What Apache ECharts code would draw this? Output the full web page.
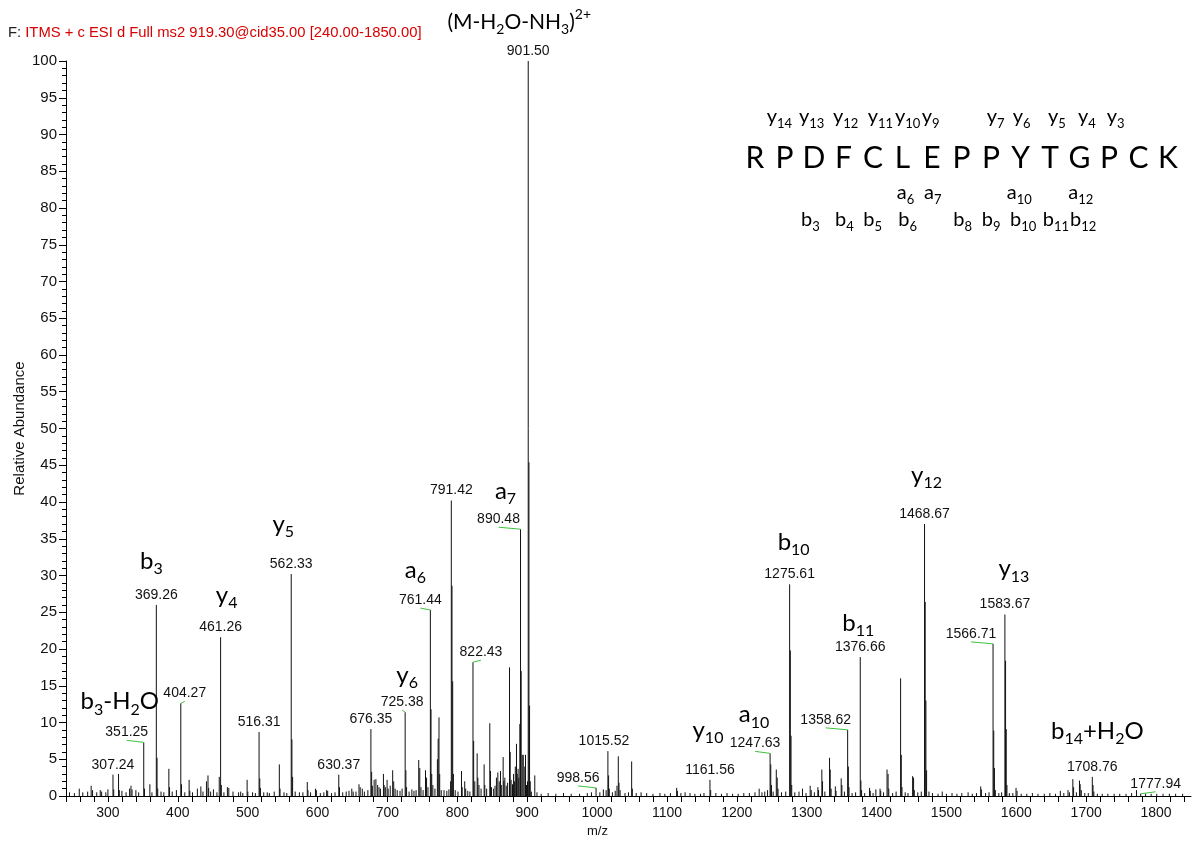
<!DOCTYPE html>
<html><head><meta charset="utf-8">
<script src="https://cdn.jsdelivr.net/npm/echarts@6/dist/echarts.min.js"></script>
<style>html,body{margin:0;padding:0;background:#fff}#c{width:1193px;height:843px}</style>
</head><body><div id="c"></div>
<script>
// ---------------- data ----------------
const peakMz = [245,252,259,264,271,276,278,284,289,291,297,300,307.24,308.3,315.2,316.3,320,326,331,333,334.5,340,344,351.25,352.3,360,363,369.26,370.3,371.3,376,380,387.2,388.2,392,398,404.27,405.3,410,416.2,417.2,421,428,433,436,441,443.2,444.2,447,451,456,459.3,461.26,462.3,466,471,473,479,487,490,493,499.2,500.2,507,511,516.31,517.3,518.3,523,528,531,538,545.3,546.3,552,556,562.33,563.3,564.3,568,574,579,585.3,586.3,590,597,598.3,604,609,613,614.5,620,625,630.37,631.4,636,641,645,649,651,655,659.3,661,664,667,672,676.35,677.4,678.4,681,683.5,686,688,690,694.3,695.3,697,699.5,701,704,707.5,709,711,714,718,721,725.38,726.4,727.4,731,735,738,741,744.8,746.3,748,751,754.5,756,758,761.44,762.4,763.4,765,768,771.5,772.6,773.8,774.8,777,781,785,788,790.4,791.42,792.4,793.4,794.4,797,801,806,807,810.6,812,815,818,822.43,823.4,825,828.4,829.4,831,834,838.4,839.4,842,846.5,847.5,849,852,854,856,858,860,861.8,863,865.6,866.6,868,870,872,874.7,875.7,877,879,880.5,882,883,884.7,885.7,887,888,889.5,890.48,891.4,892.9,894.4,896.6,897.6,899,900.5,901.50,902.5,903.4,904.4,906,910.9,914,920,930,941,952,963,975,986,992,998.56,1004,1009,1013,1015.52,1016.5,1017.5,1022,1026,1028.5,1030.4,1031.4,1033,1040,1045,1049.5,1050.5,1056,1063,1071,1080,1090,1097,1105,1113.9,1115,1120,1126,1133,1140,1148,1153,1161.56,1162.6,1170,1178,1186,1194,1202,1210,1218,1226,1232,1236,1240,1244,1247.63,1248.6,1249.6,1252,1256.5,1257.8,1259,1264,1270,1275.61,1276.6,1277.6,1278.6,1283,1289,1294,1299,1305,1306.5,1311,1316,1317,1321.7,1322.7,1326,1332.7,1333.7,1335,1341,1342,1349.4,1350.4,1354,1358.62,1359.6,1360.6,1365,1370,1376.66,1377.6,1378.6,1383,1390,1391,1395,1399,1405,1406,1410,1415,1416.5,1417.5,1423,1428,1434.4,1435.4,1436.4,1441,1445,1451.6,1453,1454,1459,1464,1468.67,1469.6,1470.6,1471.6,1475,1480,1488,1494,1500,1508,1515,1522,1531,1537,1543,1549,1550,1556,1561,1566.71,1567.7,1568.7,1570,1575,1579,1583.67,1584.6,1585.6,1586.6,1590,1595,1599.6,1601,1607,1615,1623,1631,1640,1648,1656,1663,1668,1674,1676,1680.9,1682,1686,1690.4,1691.4,1693,1698,1703,1708.76,1709.8,1711,1716,1723,1731,1740,1748,1757,1765,1772,1777.94,1785,1793,1801,1810,1819,1828,1838,1846];
const peakInt = [0.5,0.4,1.0,0.5,0.6,1.4,0.8,0.5,0.8,0.6,0.5,0.9,2.9,0.9,3.0,0.8,0.7,0.5,1.0,1.4,0.9,0.8,0.5,7.3,1.0,1.6,0.5,26.0,5.2,1.0,0.6,0.5,3.7,1.2,0.6,0.8,12.6,1.6,0.5,2.2,0.7,0.5,1.0,1.3,0.6,2.0,2.8,1.1,0.6,0.9,0.5,2.6,21.6,1.5,0.5,1.2,1.1,0.6,0.5,0.6,0.4,2.2,0.6,0.5,0.4,8.7,2.4,1.1,0.5,0.5,0.4,0.6,4.3,1.0,0.5,0.4,30.2,7.7,2.6,0.6,0.5,0.5,1.9,0.8,0.5,1.0,0.8,0.4,0.5,0.8,0.7,0.4,0.5,2.9,1.2,0.5,0.6,0.7,1.0,0.6,0.6,1.6,1.2,1.0,0.6,0.8,9.1,3.3,1.4,2.2,2.3,1.5,1.2,1.0,3.0,1.5,1.2,2.2,1.0,1.4,3.5,2.0,1.0,0.8,0.7,1.0,11.4,3.5,1.2,0.6,0.9,0.7,0.8,4.9,3.8,1.2,0.8,3.5,2.5,1.2,25.3,11.8,3.0,1.5,1.0,5.0,7.8,10.7,3.0,0.8,0.8,0.7,0.9,2.0,40.2,28.6,15.6,3.0,0.8,0.6,3.4,1.2,2.0,1.0,0.7,0.6,18.2,7.5,2.0,5.8,2.5,1.5,1.0,4.3,1.5,1.0,9.9,3.4,1.2,1.0,1.4,2.5,3.2,2.0,3.4,1.5,5.3,2.0,2.5,1.4,1.8,17.5,6.0,2.2,1.6,3.0,2.0,4.0,7.1,3.0,3.7,2.5,9.8,36.3,17.0,5.6,5.6,4.0,5.6,1.5,2.0,100,45.4,12.3,2.0,0.6,2.8,0.5,0.3,0.4,0.3,0.4,0.3,0.3,0.4,0.5,1.1,0.5,0.9,0.8,6.1,2.8,1.0,0.5,0.7,1.4,5.4,1.8,0.8,0.4,0.5,4.7,1.0,0.4,0.5,0.4,0.3,0.4,0.3,0.4,1.1,0.7,0.4,0.5,0.4,0.3,0.3,0.4,2.2,0.8,0.4,0.3,0.4,0.3,0.3,0.4,0.4,0.5,1.0,0.5,0.6,0.8,5.8,4.3,1.5,0.6,3.6,2.5,1.0,0.5,0.6,28.8,19.8,8.2,1.5,0.5,0.6,1.0,0.4,1.4,0.8,0.5,1.2,0.8,3.6,2.0,0.6,5.2,3.6,1.0,1.3,0.7,2.4,1.5,0.6,9.0,4.0,1.2,0.4,0.5,18.9,2.1,0.8,0.4,1.1,0.7,0.4,0.9,1.0,0.7,0.5,3.6,3.0,1.0,0.4,0.6,16.0,5.6,1.2,0.5,0.4,2.7,2.5,0.8,0.5,0.6,37.0,26.4,13.0,3.5,0.6,0.4,0.3,0.6,0.3,0.4,0.3,0.4,0.5,0.3,0.4,1.3,0.9,0.4,0.5,20.7,8.9,3.8,0.8,0.4,0.5,24.7,18.4,9.1,1.5,0.4,0.4,1.1,0.7,0.3,0.3,0.4,0.3,0.3,0.4,0.3,0.7,0.4,0.8,0.5,2.3,1.2,0.5,2.1,1.6,0.8,0.4,0.4,2.6,1.5,0.6,0.3,0.3,0.3,0.3,0.3,0.3,0.4,0.8,0.3,0.3,0.3,0.3,0.3,0.3,0.3,0.3];

const labeledPeaks = ['307.24','351.25','369.26','404.27','461.26','516.31','562.33','630.37','676.35','725.38','761.44','791.42','822.43','890.48','901.50','998.56','1015.52','1161.56','1247.63','1275.61','1358.62','1376.66','1468.67','1566.71','1583.67','1708.76','1777.94'];

const ionPeaks = ['369.26','351.25','461.26','562.33','725.38','761.44','890.48','901.50','1161.56','1247.63','1275.61','1376.66','1468.67','1583.67','1708.76'];
const ionNames = ['b_{3}','b_{3}-H_{2}O','y_{4}','y_{5}','y_{6}','a_{6}','a_{7}','(M-H_{2}O-NH_{3})^{2+}','y_{10}','a_{10}','b_{10}','b_{11}','y_{12}','y_{13}','b_{14}+H_{2}O'];

const seqLetters = ['R','P','D','F','C','L','E','P','P','Y','T','G','P','C','K'];
const yRowIons = ['y_{14}','y_{13}','y_{12}','y_{11}','y_{10}','y_{9}','y_{7}','y_{6}','y_{5}','y_{4}','y_{3}'];
const aRowIons = ['a_{6}','a_{7}','a_{10}','a_{12}'];
const bRowIons = ['b_{3}','b_{4}','b_{5}','b_{6}','b_{8}','b_{9}','b_{10}','b_{11}','b_{12}'];

const xTickLabels = [300,400,500,600,700,800,900,1000,1100,1200,1300,1400,1500,1600,1700,1800];
const titlePrefix = 'F: ';
const titleText = 'ITMS + c ESI d Full ms2 919.30@cid35.00 [240.00-1850.00]';
const xName = 'm/z';
const yName = 'Relative Abundance';

// ---------------- layout / style ----------------
const labelShift = {'351.25':-17,'404.27':4,'725.38':-3,'761.44':-10,'822.43':8,'890.48':-22,'998.56':-18,'1015.52':-4,'1247.63':-15,'1358.62':-22,'1566.71':-22,'1777.94':15};
const greenLeader = {'351.25':1,'404.27':1,'725.38':1,'761.44':1,'822.43':1,'890.48':1,'998.56':1,'1247.63':1,'1358.62':1,'1566.71':1,'1777.94':1};
const ionShift = [[-5,44],[-24,41],[6,42],[-8,50],[2,37],[-15,40],[-15,38],[-9,39],[-2,50],[-16,39],[4,42],[-2,34],[2,49],[9,46],[5,46]];
const ionSize = {7: 21};
const yRowX = [766.7,799,833,867.7,895,921.7,986.7,1012.7,1048,1078,1106.7];
const aRowX = [896.7,924,1006.7,1068.3];
const bRowX = [801,835,863.3,898.3,953.3,981.7,1010,1042.7,1070];

const NUMFONT = '"Liberation Sans", Arial, sans-serif';
const ANNFONT = 'Lato, "Open Sans", sans-serif';

function toRich(s) {
  let r = '{m|' + s.replace(/_\{([^}]*)\}/g, '}{s|$1}{m|').replace(/\^\{([^}]*)\}/g, '}{p|$1}{m|') + '}';
  return r.replace(/\{m\|\}/g, '');
}
function richStyles(main, sub, pad) {
  return {
    m: {fontSize: main, fontFamily: ANNFONT, fill: '#000', padding: [pad, 0, pad, 0]},
    s: {fontSize: sub, fontFamily: ANNFONT, fill: '#000', verticalAlign: 'bottom'},
    p: {fontSize: sub, fontFamily: ANNFONT, fill: '#000', verticalAlign: 'top'}
  };
}

const peakData = peakMz.map((m, i) => [m, peakInt[i]]);
function intensityOf(mzStr) {
  const m = parseFloat(mzStr);
  const i = peakMz.findIndex(v => Math.abs(v - m) < 0.001);
  return peakInt[i];
}
const labelData = labeledPeaks.map(s => [parseFloat(s), intensityOf(s)]);
const ionData = ionPeaks.map(s => [parseFloat(s), intensityOf(s)]);

const xTickVals = [];
for (let v = 240; v < 1850; v += 20) xTickVals.push(v);

// ---------------- graphics (sequence block + title) ----------------
const graphics = [];
graphics.push({type: 'text', x: 8, y: 33, style: {
  text: '{k|' + titlePrefix + '}{r|' + titleText + '}', verticalAlign: 'middle', align: 'left',
  rich: {k: {fontSize: 14.8, fontFamily: NUMFONT, fill: '#222'}, r: {fontSize: 14.8, fontFamily: NUMFONT, fill: '#d80000'}}
}});
seqLetters.forEach((L, i) => {
  graphics.push({type: 'text', x: 755 + i * 29.5, y: 158, style: {
    text: L, align: 'center', verticalAlign: 'middle', fontSize: 30, fontFamily: ANNFONT, fill: '#000'}});
});
function rowGraphics(list, xs, y) {
  list.forEach((s, i) => {
    graphics.push({type: 'text', x: xs[i], y: y, style: {
      text: toRich(s), align: 'left', verticalAlign: 'middle', rich: richStyles(20, 13, 3)}});
  });
}
rowGraphics(yRowIons, yRowX, 117);
rowGraphics(aRowIons, aRowX, 193);
rowGraphics(bRowIons, bRowX, 220);

const chart = echarts.init(document.getElementById('c'), null, {renderer: 'canvas'});
chart.setOption({
  animation: false,
  backgroundColor: '#fff',
  grid: {left: 66, right: 2, top: 61, bottom: 46, containLabel: false},
  xAxis: {
    type: 'value', min: 240, max: 1850,
    axisLine: {show: true, onZero: false, lineStyle: {color: '#000', width: 1}},
    axisTick: {show: true, customValues: xTickVals, length: 6, lineStyle: {color: '#000'}},
    axisLabel: {customValues: xTickLabels, fontSize: 14, color: '#111', margin: 10, fontFamily: NUMFONT,
      formatter: v => String(v)},
    splitLine: {show: false},
    name: xName, nameLocation: 'middle', nameGap: 29, nameMoveOverlap: false,
    nameTextStyle: {fontSize: 13, color: '#111', fontFamily: NUMFONT, padding: [0, 62, 0, 0]}
  },
  yAxis: {
    type: 'value', min: 0, max: 100, interval: 5,
    axisLine: {show: true, lineStyle: {color: '#000', width: 1}},
    axisTick: {show: true, length: 7, lineStyle: {color: '#000'}},
    minorTick: {show: true, splitNumber: 5, length: 4, lineStyle: {color: '#000'}},
    axisLabel: {fontSize: 15, color: '#111', margin: 9, fontFamily: NUMFONT},
    splitLine: {show: false}, minorSplitLine: {show: false},
    name: yName, nameLocation: 'middle', nameGap: 39, nameRotate: 90, nameMoveOverlap: false,
    nameTextStyle: {fontSize: 15, color: '#111', fontFamily: NUMFONT}
  },
  graphic: graphics,
  series: [
    {
      type: 'custom', coordinateSystem: 'cartesian2d', data: peakData, silent: true, z: 2,
      encode: {x: 0, y: 1},
      renderItem: function (params, api) {
        const x = api.value(0), y = api.value(1);
        const p0 = api.coord([x, 0]), p1 = api.coord([x, y]);
        return {type: 'line', shape: {x1: p0[0], y1: p0[1], x2: p1[0], y2: p1[1]},
          style: {stroke: '#111', lineWidth: 1}};
      }
    },
    {
      type: 'custom', coordinateSystem: 'cartesian2d', data: labelData, silent: true, z: 3,
      encode: {x: 0, y: 1},
      renderItem: function (params, api) {
        const txt = labeledPeaks[params.dataIndex];
        const p = api.coord([api.value(0), api.value(1)]);
        const dx = labelShift[txt] || 0;
        const cx = p[0] + dx, cy = p[1] - 10;
        const children = [];
        if (greenLeader[txt]) {
          children.push({type: 'line', shape: {x1: cx, y1: cy + 8, x2: p[0], y2: p[1]},
            style: {stroke: '#3cc43c', lineWidth: 1}});
        }
        children.push({type: 'text', style: {text: txt, x: cx, y: cy, align: 'center', verticalAlign: 'middle',
          fontSize: 14, fontFamily: NUMFONT, fill: '#111'}});
        return {type: 'group', children: children};
      }
    },
    {
      type: 'custom', coordinateSystem: 'cartesian2d', data: ionData, silent: true, z: 4,
      encode: {x: 0, y: 1},
      renderItem: function (params, api) {
        const i = params.dataIndex;
        const p = api.coord([api.value(0), api.value(1)]);
        const sh = ionShift[i];
        const fs = ionSize[i] || 24;
        return {type: 'text', style: {text: toRich(ionNames[i]), x: p[0] + sh[0], y: p[1] - sh[1],
          align: 'center', verticalAlign: 'middle', rich: richStyles(fs, Math.round(fs * 2 / 3), 4)}};
      }
    }
  ]
});
</script>
</body></html>
